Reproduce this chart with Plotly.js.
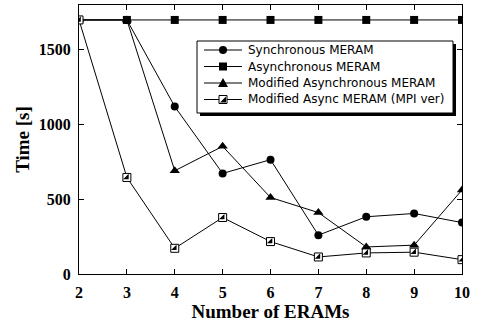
<!DOCTYPE html>
<html>
<head>
<meta charset="utf-8">
<script src="https://cdn.plot.ly/plotly-3.0.1.min.js"></script>
<style>
  html, body { margin: 0; padding: 0; background: #fff; }
  #chart { width: 484px; height: 322px; }
</style>
</head>
<body>
<div id="chart"></div>
<script>
// Number of ERAMs on the x axis
const erams = [2, 3, 4, 5, 6, 7, 8, 9, 10];

// Execution time [s] per configuration
const syncMeram     = [1700, 1700, 1120, 673, 765, 260, 383, 405, 344];
const asyncMeram    = [1700, 1700, 1700, 1700, 1700, 1700, 1700, 1700, 1700];
const modAsyncMeram = [1700, 1700, 691, 854, 512, 411, 181, 193, 562];
const modAsyncMpi   = [1700, 646, 172, 378, 217, 114, 141, 146, 96];

const seriesNames = [
  'Synchronous MERAM',
  'Asynchronous MERAM',
  'Modified Asynchronous MERAM',
  'Modified Async MERAM (MPI ver)'
];

const xTicks = [2, 3, 4, 5, 6, 7, 8, 9, 10];
const yTicks = [0, 500, 1000, 1500];

const W = 484, H = 322;
const M = { l: 79, r: 22, t: 5, b: 48 };
const plotW = W - M.l - M.r, plotH = H - M.t - M.b;
// pixel position -> paper fraction
const px = v => (v - M.l) / plotW;
const py = v => (H - M.b - v) / plotH;

const lineStyle = { color: '#000', width: 1 };

const traces = [
  {
    x: erams, y: syncMeram, name: seriesNames[0], mode: 'lines+markers',
    line: lineStyle, marker: { symbol: 'circle', size: 8, color: '#000' }
  },
  {
    x: erams, y: asyncMeram, name: seriesNames[1], mode: 'lines+markers',
    line: lineStyle, marker: { symbol: 'square', size: 8, color: '#000' }
  },
  {
    x: erams, y: modAsyncMeram, name: seriesNames[2], mode: 'lines+markers',
    line: lineStyle, marker: { symbol: 'triangle-up', size: 9, color: '#000' }
  },
  {
    x: erams, y: modAsyncMpi, name: seriesNames[3], mode: 'lines+markers',
    line: lineStyle,
    marker: { symbol: 'square', size: 8, color: '#fff', line: { color: '#000', width: 1 } }
  },
  // black lower-right half of the MPI square markers
  {
    x: erams, y: modAsyncMpi, name: seriesNames[3], mode: 'markers', showlegend: false,
    marker: { symbol: 'triangle-se', size: 6, color: '#000' }, hoverinfo: 'skip'
  }
];

// ---- legend box drawn with shapes + annotations ----
const box = { x0: 197, x1: 453, y0: 41, y1: 113, shadow: 3 };
const rowY = [50, 66.5, 83, 99.5];
const keyX0 = 204, keyX1 = 242, keyMid = 223, textX = 246;

const shapes = [
  { type: 'rect', xref: 'paper', yref: 'paper', layer: 'above',
    x0: px(box.x0 + box.shadow), x1: px(box.x1 + box.shadow),
    y0: py(box.y1 + box.shadow), y1: py(box.y0 + box.shadow),
    fillcolor: '#000', line: { width: 0 } },
  { type: 'rect', xref: 'paper', yref: 'paper', layer: 'above',
    x0: px(box.x0), x1: px(box.x1), y0: py(box.y1), y1: py(box.y0),
    fillcolor: '#fff', line: { color: '#000', width: 1 } }
];

const pixelShape = (type, yc, extra) => Object.assign({
  type: type, xref: 'paper', yref: 'paper', layer: 'above',
  xsizemode: 'pixel', ysizemode: 'pixel',
  xanchor: px(keyMid), yanchor: py(yc)
}, extra);

const annotations = [];
rowY.forEach((yc, i) => {
  shapes.push({ type: 'line', xref: 'paper', yref: 'paper', layer: 'above',
    x0: px(keyX0), x1: px(keyX1), y0: py(yc), y1: py(yc),
    line: { color: '#000', width: 1 } });
  annotations.push({
    xref: 'paper', yref: 'paper', x: px(textX), y: py(yc),
    xanchor: 'left', yanchor: 'middle', showarrow: false,
    text: seriesNames[i],
    font: { family: 'DejaVu Sans, sans-serif', size: 12, color: '#000' }
  });
});
// legend keys
shapes.push(pixelShape('circle', rowY[0], { x0: -4, x1: 4, y0: -4, y1: 4, fillcolor: '#000', line: { width: 0 } }));
shapes.push(pixelShape('rect', rowY[1], { x0: -4, x1: 4, y0: -4, y1: 4, fillcolor: '#000', line: { width: 0 } }));
shapes.push(pixelShape('path', rowY[2], { path: 'M-5,-4 L5,-4 L0,5 Z', fillcolor: '#000', line: { width: 0 } }));
shapes.push(pixelShape('rect', rowY[3], { x0: -4, x1: 4, y0: -4, y1: 4, fillcolor: '#fff', line: { color: '#000', width: 1 } }));
shapes.push(pixelShape('path', rowY[3], { path: 'M3,-3 L3,3 L-3,-3 Z', fillcolor: '#000', line: { width: 0 } }));

const tickFont = { family: 'Liberation Serif, Times New Roman, serif', size: 16, color: '#000', weight: 'bold' };
const titleFont = { family: 'Liberation Serif, Times New Roman, serif', size: 19, color: '#000', weight: 'bold' };

const layout = {
  width: W, height: H,
  margin: M,
  paper_bgcolor: '#fff', plot_bgcolor: '#fff',
  showlegend: false,
  xaxis: {
    range: [2, 10], tickvals: xTicks, ticktext: xTicks.map(String),
    showgrid: false, zeroline: false,
    showline: true, linecolor: '#000', linewidth: 1, mirror: 'ticks',
    ticks: 'inside', ticklen: 5, tickcolor: '#000',
    ticklabelstandoff: 4,
    tickfont: tickFont,
    title: { text: 'Number of ERAMs', font: titleFont, standoff: 0 }
  },
  yaxis: {
    range: [0, 1800], tickvals: yTicks, ticktext: yTicks.map(String),
    showgrid: false, zeroline: false,
    showline: true, linecolor: '#000', linewidth: 1, mirror: 'ticks',
    ticks: 'inside', ticklen: 5, tickcolor: '#000',
    ticklabelstandoff: 4,
    tickfont: tickFont,
    title: { text: 'Time [s]', font: titleFont, standoff: 4 }
  },
  shapes: shapes,
  annotations: annotations
};

Plotly.newPlot('chart', traces, layout, { displayModeBar: false, staticPlot: true });
</script>
</body>
</html>
